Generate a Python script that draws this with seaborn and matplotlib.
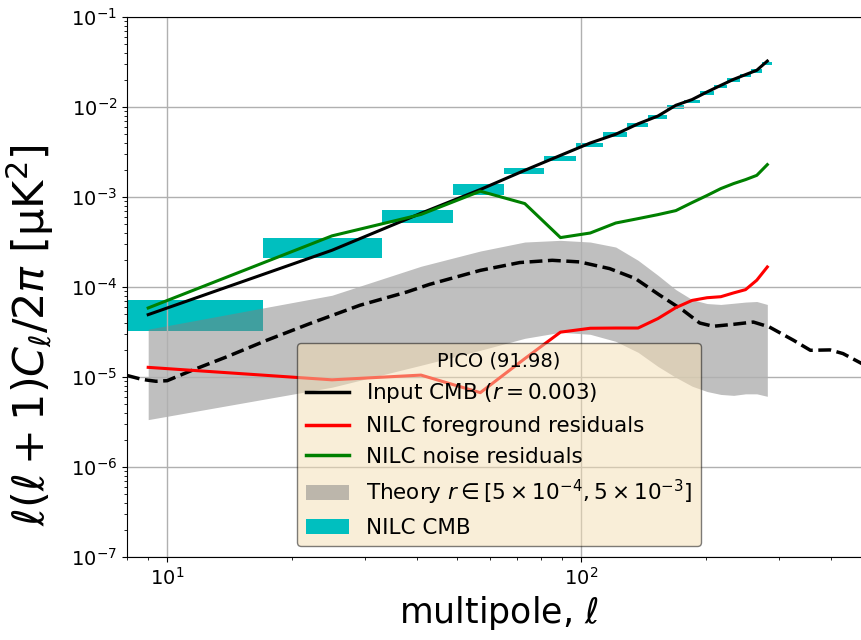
import matplotlib
matplotlib.use('Agg')
import matplotlib.pyplot as plt
from matplotlib.lines import Line2D
from matplotlib.patches import Patch
import seaborn as sns
import numpy as np

# bin centres (delta ell = 16, starting at ell = 1)
ell_bins = [9, 25, 41, 57, 73, 89, 105, 121, 137, 153, 169, 185, 201, 217, 233, 249, 265, 281]
bin_width = 16

# NILC CMB band powers and errors
nilc_cmb = [5.19e-5, 2.78e-4, 6.19e-4, 1.21e-3, 1.96e-3, 2.67e-3, 3.79e-3, 4.98e-3, 6.25e-3,
            7.73e-3, 9.98e-3, 1.155e-2, 1.42e-2, 1.69e-2, 2.00e-2, 2.25e-2, 2.52e-2, 3.03e-2]
nilc_cmb_err = [1.92e-5, 6.8e-5, 1.05e-4, 1.7e-4, 1.6e-4, 1.6e-4, 2.3e-4, 2.9e-4, 3.1e-4,
                3.7e-4, 4.8e-4, 5.5e-4, 7.0e-4, 8.0e-4, 9.5e-4, 1.0e-3, 1.05e-3, 1.3e-3]

input_cmb = [4.93e-5, 2.56e-4, 6.6e-4, 1.21e-3, 1.98e-3, 2.9e-3, 3.98e-3, 4.98e-3, 6.5e-3,
             7.94e-3, 1.045e-2, 1.21e-2, 1.47e-2, 1.74e-2, 2.03e-2, 2.29e-2, 2.56e-2, 3.24e-2]
fg_resid = [1.28e-5, 9.3e-6, 1.05e-5, 6.7e-6, 1.6e-5, 3.15e-5, 3.48e-5, 3.5e-5, 3.5e-5,
            4.46e-5, 5.9e-5, 7.1e-5, 7.6e-5, 7.8e-5, 8.6e-5, 9.35e-5, 1.19e-4, 1.67e-4]
noise_resid = [5.85e-5, 3.7e-4, 6.4e-4, 1.16e-3, 8.45e-4, 3.54e-4, 3.98e-4, 5.14e-4, 5.75e-4,
               6.37e-4, 7.06e-4, 8.67e-4, 1.04e-3, 1.24e-3, 1.41e-3, 1.56e-3, 1.74e-3, 2.29e-3]

# theory band r in [5e-4, 5e-3]
theory_low = [3.36e-6, 7.7e-6, 1.35e-5, 1.98e-5, 2.69e-5, 3.14e-5, 2.98e-5, 2.49e-5, 1.88e-5,
              1.31e-5, 9.9e-6, 7.9e-6, 6.9e-6, 6.4e-6, 6.25e-6, 6.5e-6, 6.5e-6, 6.1e-6]
theory_high = [3.4e-5, 8.1e-5, 1.7e-4, 2.51e-4, 3.16e-4, 3.3e-4, 3.16e-4, 2.78e-4, 1.98e-4,
               1.35e-4, 9.35e-5, 7.24e-5, 6.55e-5, 6.4e-5, 6.6e-5, 6.8e-5, 6.9e-5, 6.4e-5]

# theory r = 0.003 curve
theory_ell = [8, 8.7, 9.4, 10, 11.5, 13.9, 17.4, 22.1, 29.2, 37.9, 43, 57, 71, 85, 99, 117,
              135, 154, 176, 193, 208, 233, 260, 284, 325, 357, 398, 428, 475, 500]
theory_dl = [1.04e-5, 9.4e-6, 8.96e-6, 9.1e-6, 1.19e-5, 1.67e-5, 2.56e-5, 3.92e-5, 6.27e-5,
             8.8e-5, 1.07e-4, 1.53e-4, 1.87e-4, 1.98e-4, 1.9e-4, 1.6e-4, 1.24e-4, 8.2e-5,
             5.5e-5, 3.98e-5, 3.66e-5, 3.85e-5, 4.08e-5, 3.6e-5, 2.56e-5, 1.98e-5, 2.0e-5,
             1.82e-5, 1.41e-5, 1.25e-5]

fig = plt.figure(figsize=(8.61, 6.4), dpi=100)
ax = fig.add_axes([127 / 861, 83 / 640, 744 / 861, 540 / 640])
ax.set_xscale('log')
ax.set_yscale('log')

cmb = np.array(nilc_cmb)
err = np.array(nilc_cmb_err)
ax.bar(ell_bins, 2 * err, bottom=cmb - err, width=bin_width, color='c', zorder=1)
ax.fill_between(ell_bins, theory_low, theory_high, color='gray', alpha=0.5, lw=0)

sns.lineplot(x=theory_ell, y=theory_dl, ax=ax, color='k', linestyle='--', lw=2.5)
sns.lineplot(x=ell_bins, y=input_cmb, ax=ax, color='k', lw=2.2)
sns.lineplot(x=ell_bins, y=fg_resid, ax=ax, color='r', lw=2.2)
sns.lineplot(x=ell_bins, y=noise_resid, ax=ax, color='g', lw=2.2)

ax.set_xlim(8, 500)
ax.set_ylim(1e-7, 1e-1)
ax.grid(True, which='major', color='#b0b0b0', lw=1)
ax.tick_params(labelsize=14)
ax.set_xlabel(r'multipole, $\ell$', fontsize=25)
ax.set_ylabel(r'$\ell(\ell+1)C_\ell/2\pi$ [$\mathrm{\mu K^2}$]', fontsize=31)
ax.yaxis.set_label_coords(-0.095, 0.41)

handles = [Line2D([], [], color='k', lw=2.5),
           Line2D([], [], color='r', lw=2.5),
           Line2D([], [], color='g', lw=2.5),
           Patch(facecolor='gray', alpha=0.5),
           Patch(facecolor='c')]
labels = [r'Input CMB ($r=0.003$)', 'NILC foreground residuals', 'NILC noise residuals',
          r'Theory $r\in[5\times10^{-4},5\times10^{-3}]$', 'NILC CMB']
leg = ax.legend(handles, labels, loc='lower center', title='PICO (91.98)',
                fontsize=15.5, title_fontsize=14, facecolor='wheat', edgecolor='k',
                framealpha=0.5, labelspacing=0.5)

fig.savefig('out.png', dpi=100)
